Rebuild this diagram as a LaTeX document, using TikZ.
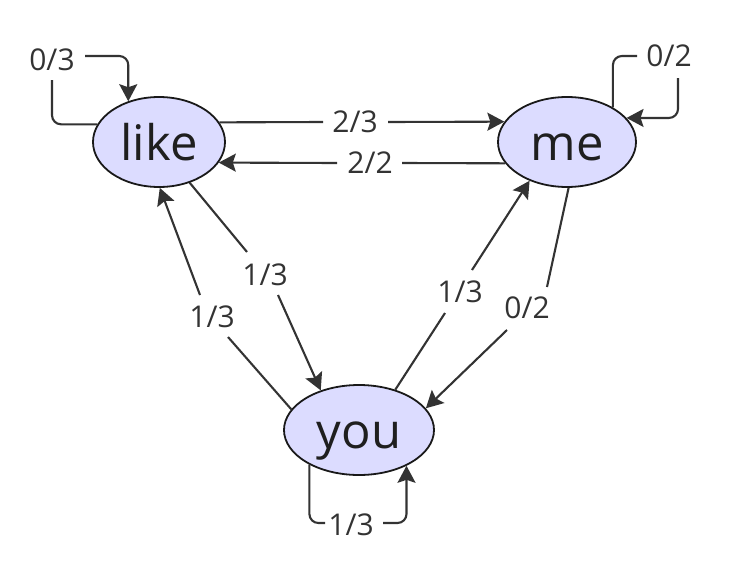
\documentclass[tikz,border=0pt]{standalone}
\usepackage{fontspec}
\setmainfont{Open Sans}
\usetikzlibrary{arrows.meta,shapes.geometric}
\definecolor{edgecol}{HTML}{333333}
\definecolor{nodefill}{HTML}{DCDCFF}
\begin{document}
\begin{tikzpicture}[x=1pt,y=-1pt,
  state/.style={ellipse, draw=black!90, line width=1.8pt, fill=nodefill, inner sep=0pt,
    minimum height=90pt, text height=37pt, text depth=0pt,
    font=\fontsize{49}{54}\selectfont, text=black!88},
  edge/.style={draw=edgecol, line width=2.1pt, rounded corners=9pt,
    -{Stealth[length=17pt,width=18pt,inset=3pt]}},
  lbl/.style={inner sep=0pt, font=\fontsize{30}{34}\selectfont, text=edgecol},
]
\useasboundingbox (0,0) rectangle (744,565);

\node[state, minimum width=132pt] (like) at (159,142) {like};
\node[state, minimum width=138pt] (me) at (567,142) {me};
\node[state, minimum width=150pt] (you) at (359,430) {you};

% like <-> me
\draw[edge] (like.18.7) -- (323,122) (388,122) -- (me.162.1);
\node[lbl] (l23) at (355,122) {2/3};
\draw[edge] (me.-161) -- (402,163) (337,163) -- (like.-19.8);
\node[lbl] (l22) at (370,163) {2/2};

% like <-> you
\draw[edge, rounded corners=0pt] (like.-53) -- (247,252) (278,295) -- (you.134);
\node[lbl] (l13a) at (265,275) {1/3};
\draw[edge, rounded corners=0pt] (you.163) -- (228,337) (200,295) -- (like.-89);
\node[lbl] (l13b) at (212,317) {1/3};

% you <-> me
\draw[edge, rounded corners=0pt] (you.48) -- (445,313) (472,270) -- (me.226);
\node[lbl] (l13c) at (460,292) {1/3};
\draw[edge, rounded corners=0pt] (me.-88) -- (547,287) (507,330) -- (you.18);
\node[lbl] (l02a) at (527,308) {0/2};

% self loops
\draw[edge] (like.164.5) -| (52,80) (85,56) -| (like.127);
\node[lbl] (l03) at (52,60) {0/3};
\draw[edge] (me.37) |- (637,56) (678,78) |- (me.22.6);
\node[lbl] (l02b) at (669,56) {0/2};
\draw[edge] (you.215.8) |- (325,523) (383,523) -| (you.-37.7);
\node[lbl] (l13d) at (351,525) {1/3};
\end{tikzpicture}
\end{document}
